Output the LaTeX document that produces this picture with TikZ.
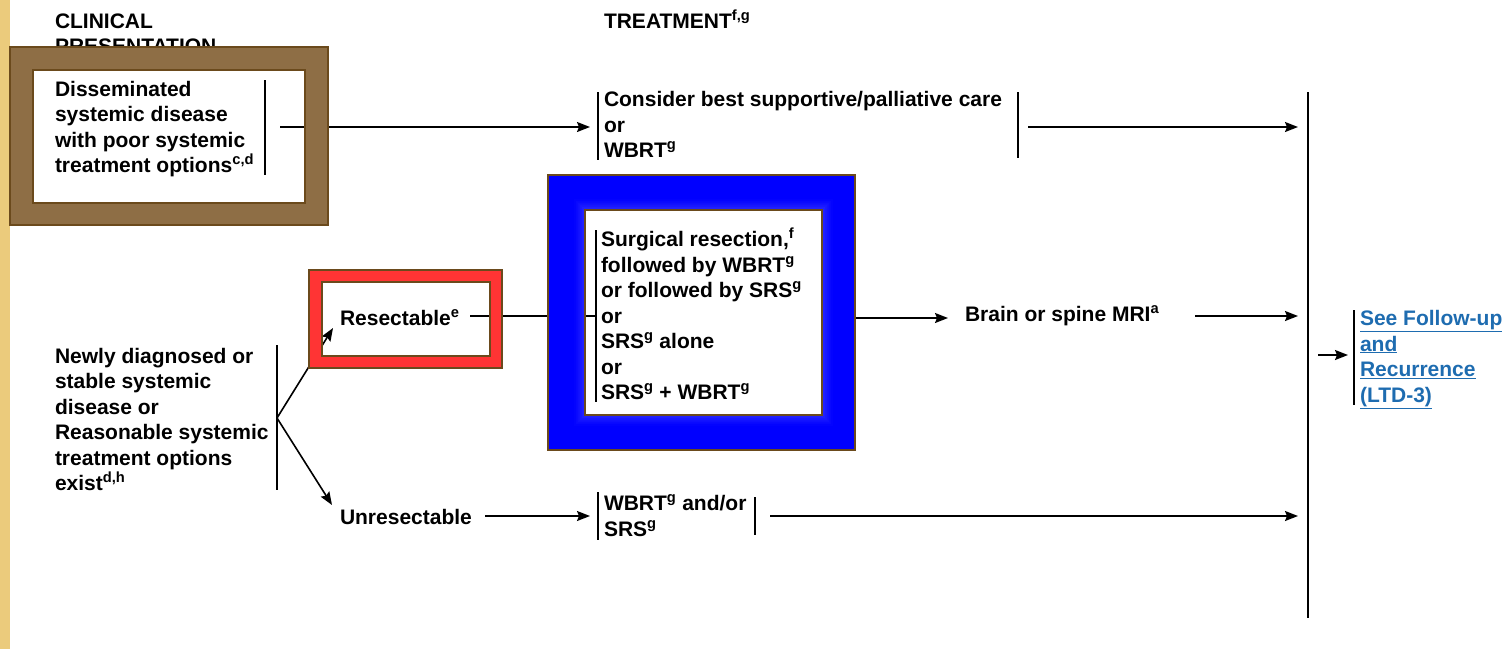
\documentclass[tikz,border=0pt]{standalone}
\usepackage{fontspec}
\setmainfont{Liberation Sans}
\usetikzlibrary{arrows.meta}

\definecolor{woodbrown}{HTML}{8E6E45}
\definecolor{framebrown}{HTML}{6B4A1C}
\definecolor{tanstripe}{HTML}{EBCB7C}
\definecolor{framered}{HTML}{FF3434}
\definecolor{linkblue}{HTML}{1E6CB0}
\newcommand{\sps}[1]{\textsuperscript{#1}}

\begin{document}
\begin{tikzpicture}[
        x = 1pt, y = -1pt, % pixel like units, y going down
        > = {Stealth[length=13pt, width=10pt, inset=2pt]}, % arrow head style
        line width = 1.6pt % line style
    ]

    % base of a text block = baseline of its last line
    \tikzset{every node/.style = {inner sep = 0pt, outer sep = 0pt, anchor = base west,
        align = left, font = \fontsize{21}{25.5}\selectfont\bfseries}}
    \tikzset{frameline/.style = {draw = framebrown, line width = 2pt}}

    \useasboundingbox (0,0) rectangle (1510,649);
    \fill[tanstripe] (0,0) rectangle (10,649);

    \node (clin) at (55,53.5) {CLINICAL\\PRESENTATION};
    \node (treat) at (604,28) {TREATMENT\sps{f,g}};

    % named ends of the connectors
    \coordinate (disout) at (280,127); \coordinate (carein) at (590,127);
    \coordinate (careout) at (1028,127); \coordinate (joinA) at (1298,127);
    \coordinate (fork) at (277,418); \coordinate (resin) at (333,328);
    \coordinate (unrin) at (332,505);
    \coordinate (resout) at (470,316); \coordinate (surgin) at (596,316);
    \coordinate (surgout) at (822,318); \coordinate (mriin) at (948,318);
    \coordinate (mriout) at (1195,316); \coordinate (joinB) at (1298,316);
    \coordinate (unrout) at (485,516); \coordinate (wbrtin) at (590,516);
    \coordinate (wbrtout) at (770,516); \coordinate (joinC) at (1298,516);
    \coordinate (allout) at (1318,355); \coordinate (follin) at (1348,355);

    \path[->] (disout) edge (carein); \path[->] (careout) edge (joinA);
    \path[->] (fork) edge (resin); \path[->] (fork) edge (unrin);
    \path[-] (resout) edge (surgin); \path[->] (surgout) edge (mriin);
    \path[->] (mriout) edge (joinB); \path[->] (unrout) edge (wbrtin);
    \path[->] (wbrtout) edge (joinC); \path[->] (allout) edge (follin);

    % bars beside the text blocks
    \draw (265,80) -- (265,175); \draw (598,92) -- (598,160);
    \draw (1018,92) -- (1018,158); \draw (1308,92) -- (1308,618);
    \draw (1354,310) -- (1354,405); \draw (596,230) -- (596,402);
    \draw (277,345) -- (277,490); \draw (598,492) -- (598,540);
    \draw (755,497) -- (755,535);

    % frames
    \fill[woodbrown, even odd rule] (10,47) rectangle (328,225) (33,70) rectangle (305,203);
    \draw[frameline] (10,47) rectangle (328,225) (33,70) rectangle (305,203);

    \fill[framered, even odd rule] (309,270) rectangle (502,368) (322,282) rectangle (490,356);
    \draw[frameline, line width = 2.5pt] (309,270) rectangle (502,368) (322,282) rectangle (490,356);

    \fill[blue, even odd rule] (548,175) rectangle (855,450) (585,210) rectangle (822,415);
    \foreach \d [evaluate = \d as \c using int(84+1.5*\d)] in {1,...,10}
        \draw[blue!\c!white, line width = 1.2pt] ({585-\d},{210-\d}) rectangle ({822+\d},{415+\d});
    \draw[frameline] (548,175) rectangle (855,450) (585,210) rectangle (822,415);

    \node (dis) at (55,172.5) {Disseminated\\systemic disease\\with poor systemic\\treatment options\sps{c,d}};
    \node (care) at (604,157.5) {Consider best supportive/palliative care\\or\\WBRT\sps{g}};
    \node (surg) at (601,399.5) {Surgical resection,\sps{f}\\followed by WBRT\sps{g}\\or followed by SRS\sps{g}\\or\\SRS\sps{g} alone\\or\\SRS\sps{g} + WBRT\sps{g}};
    \node (res) at (340,325) {Resectable\sps{e}};
    \node (mri) at (965,321) {Brain or spine MRI\sps{a}};
    \node (newly) at (55,490.5) {Newly diagnosed or\\stable systemic\\disease or\\Reasonable systemic\\treatment options\\exist\sps{d,h}};
    \node (unres) at (340,524) {Unresectable};
    \node (wbrt) at (604,536) {WBRT\sps{g} and/or\\SRS\sps{g}};
    \node[text = linkblue] (follow) at (1360,402) {\underline{See Follow-up}\\\underline{and}\\\underline{Recurrence}\\\underline{(LTD-3)}};

\end{tikzpicture}
\end{document}
